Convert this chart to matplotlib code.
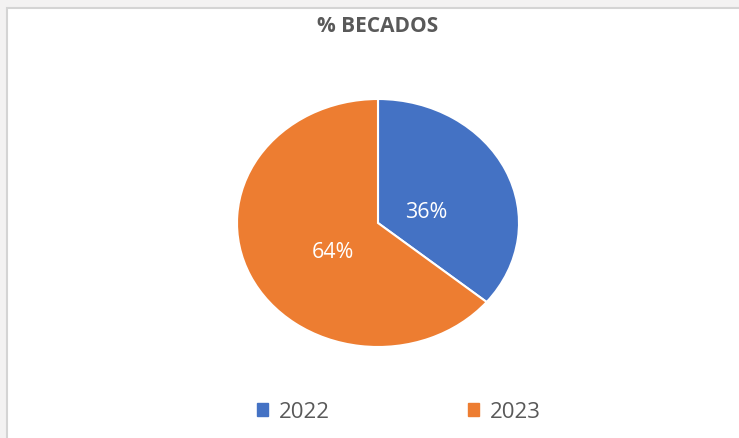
import matplotlib.pyplot as plt
from matplotlib.patches import Rectangle

years = ["2022", "2023"]
pct_becados = [36, 64]
colors = ["#4472C4", "#ED7D31"]

plt.rcParams['font.family'] = ['Open Sans', 'DejaVu Sans']

W, H = 739, 439
fig = plt.figure(figsize=(W / 100, H / 100), dpi=100, facecolor="#f3f2f2")

# white chart area with thin grey frame
fig.patches.append(Rectangle((7 / W, -0.01), 1.02, 1 - 9 / H + 0.01, transform=fig.transFigure,
                             facecolor="white", edgecolor="#d4d4d4", linewidth=1.5, zorder=-5))

# pie is slightly elliptical in the reference
cx, cy, rx, ry = 378, 224, 141, 124
ax = fig.add_axes([(cx - rx) / W, 1 - (cy + ry) / H, 2 * rx / W, 2 * ry / H])
ax.set_zorder(2)
wedges, texts, autotexts = ax.pie(pct_becados, colors=colors, startangle=90, counterclock=False,
                                  autopct="%d%%", pctdistance=0.42,
                                  wedgeprops=dict(edgecolor="white", linewidth=1.5),
                                  textprops=dict(color="white", fontsize=15.5))
# excel puts the labels a bit differently
autotexts[0].set_position((0.34, 0.09))
autotexts[1].set_position((-0.32, -0.23))
ax.set_aspect("auto")
ax.set_xlim(-1, 1)
ax.set_ylim(-1, 1)
ax.axis("off")

fig.text(cx / W, 1 - 27 / H, "% BECADOS", ha="center", va="center",
         fontsize=15, fontweight="bold", color="#595959")

handles = [plt.Rectangle((0, 0), 1, 1, color=c) for c in colors]
fig.legend(handles, years, loc="center", bbox_to_anchor=(399 / W, 1 - 413 / H), ncol=2,
           frameon=False, handlelength=0.5, handleheight=0.5, handletextpad=0.5,
           columnspacing=6.2, prop=dict(size=16), labelcolor="#595959")

fig.savefig("out.png", dpi=100, facecolor=fig.get_facecolor())
